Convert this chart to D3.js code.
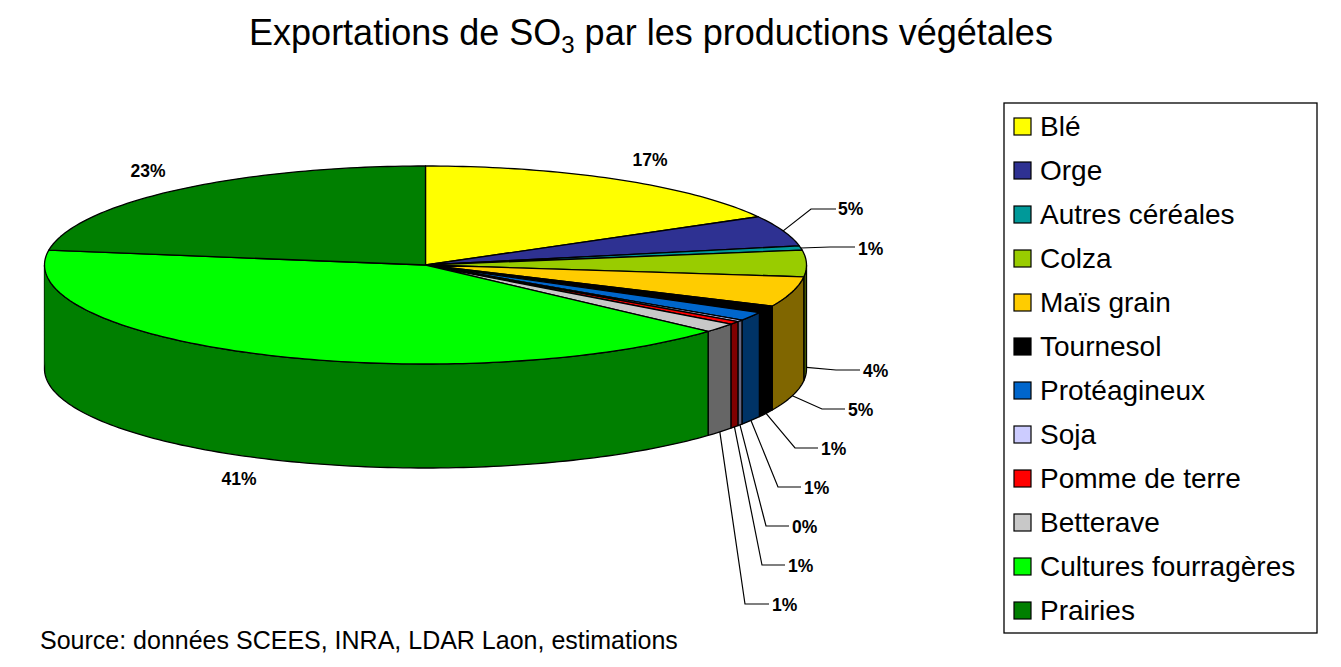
<!DOCTYPE html>
<html>
<head>
<meta charset="utf-8">
<script src="https://cdn.jsdelivr.net/npm/d3@7"></script>
<style>
  html, body { margin: 0; padding: 0; background: #fff; }
  svg { display: block; }
  text { font-family: "Liberation Sans", Arial, sans-serif; fill: #000; }
</style>
</head>
<body>
<div id="chart"></div>
<script>
// Exportations de SO3 - pie drawn in fake 3D like the old Excel chart

var categories = ["Blé", "Orge", "Autres céréales", "Colza", "Maïs grain", "Tournesol",
    "Protéagineux", "Soja", "Pomme de terre", "Betterave", "Cultures fourragères", "Prairies"];
var values = [16.9, 5.0, 0.7, 4.3, 4.9, 1.2, 1.4, 0.3, 0.5, 1.5, 40.7, 22.6];
var percentLabels = ["17%", "5%", "1%", "4%", "5%", "1%", "1%", "0%", "1%", "1%", "41%", "23%"];
var topColors = ["#ffff00", "#2e3192", "#009999", "#99cc00", "#ffcc00", "#000000",
    "#0066cc", "#ccccff", "#ff0000", "#c8c8c8", "#00ff00", "#007f00"];
var sideColors = ["#808000", "#191970", "#004d4d", "#4d6600", "#806600", "#000000",
    "#003366", "#666680", "#800000", "#666666", "#007f00", "#004000"];

var width = 1341, height = 667;
var cx = 425.5, cy = 265, rx = 381, ry = 99, depth = 104;

var svg = d3.select("#chart").append("svg")
    .attr("width", width)
    .attr("height", height);

var color = d3.scaleOrdinal().domain(categories).range(topColors);
var sideColor = d3.scaleOrdinal().domain(categories).range(sideColors);

var pie = d3.pie().sort(null).value(function(d, i) { return values[i]; });
var slices = pie(categories);

var line = d3.line().x(function(d) { return d[0]; }).y(function(d) { return d[1]; });

function project(a, dy) {
    return [cx + rx * Math.sin(a), cy - ry * Math.cos(a) + (dy || 0)];
}

function rim(a0, a1, dy) {
    var n = Math.max(2, Math.ceil((a1 - a0) / 0.02));
    return d3.range(n + 1).map(function(i) { return project(a0 + (a1 - a0) * i / n, dy); });
}

// side wall, only the front half can be seen
var front = [Math.PI / 2, Math.PI * 3 / 2];
var sides = slices.filter(function(d) {
    return d.endAngle > front[0] && d.startAngle < front[1];
});

var pieG = svg.append("g");

pieG.selectAll(".side")
    .data(sides)
    .enter().append("path")
    .attr("class", "side")
    .attr("d", function(d) {
        var a0 = Math.max(d.startAngle, front[0]), a1 = Math.min(d.endAngle, front[1]);
        return line(rim(a0, a1, 0).concat(rim(a0, a1, depth).reverse())) + "Z";
    })
    .attr("fill", function(d) { return sideColor(d.data); })
    .attr("stroke", "#000")
    .attr("stroke-width", 1.3)
    .attr("stroke-linejoin", "round");

// the wall also wraps a little past the widest point on the left
var wrap = slices[10];
pieG.append("path")
    .attr("d", line(rim(front[1], wrap.endAngle, 0).concat(rim(front[1], wrap.endAngle, depth).reverse())) + "Z")
    .attr("fill", sideColor(wrap.data))
    .attr("stroke", "none");

pieG.selectAll(".top")
    .data(slices)
    .enter().append("path")
    .attr("class", "top")
    .attr("d", function(d) {
        return line([[cx, cy]].concat(rim(d.startAngle, d.endAngle, 0))) + "Z";
    })
    .attr("fill", function(d) { return color(d.data); })
    .attr("stroke", "#000")
    .attr("stroke-width", 1.3)
    .attr("stroke-linejoin", "round");

// labels. elbow = where the leader bends, null means no leader
var labelLayout = [
    {x: 650, y: 166, anchor: "middle"},
    {elbow: [811, 209], end: 836, x: 838, y: 215, wall: false},
    {elbow: [830, 247], end: 855, x: 858, y: 255, wall: false},
    {elbow: [836, 370], end: 860, x: 863, y: 377, wall: true},
    {elbow: [822, 409], end: 845, x: 848, y: 416, wall: true},
    {elbow: [795, 448], end: 818, x: 821, y: 455, wall: true},
    {elbow: [778, 487], end: 801, x: 804, y: 494, wall: true},
    {elbow: [766, 526], end: 789, x: 792, y: 533, wall: true},
    {elbow: [762, 565], end: 785, x: 788, y: 572, wall: true},
    {elbow: [745, 604], end: 769, x: 772, y: 611, wall: true},
    {x: 239, y: 485, anchor: "middle"},
    {x: 148, y: 177, anchor: "middle"}
];

var labelG = svg.append("g");

slices.forEach(function(d, i) {
    var l = labelLayout[i];
    if (l.elbow) {
        var mid = (d.startAngle + d.endAngle) / 2;
        var start = project(mid, l.wall ? depth : 0);
        labelG.append("path")
            .attr("d", line([start, l.elbow, [l.end, l.elbow[1]]]))
            .attr("fill", "none")
            .attr("stroke", "#000")
            .attr("stroke-width", 1.2);
    }
    labelG.append("text")
        .attr("x", l.x)
        .attr("y", l.y)
        .attr("text-anchor", l.anchor || "start")
        .attr("font-size", 17.5)
        .attr("font-weight", "bold")
        .text(percentLabels[i]);
});

// title with the subscript
var title = svg.append("text")
    .attr("x", 651)
    .attr("y", 45)
    .attr("text-anchor", "middle")
    .attr("font-size", 36);
title.append("tspan").text("Exportations de SO");
title.append("tspan").attr("font-size", 24).attr("dy", 8).text("3");
title.append("tspan").attr("dy", -8).text(" par les productions végétales");

svg.append("text")
    .attr("x", 40)
    .attr("y", 649)
    .attr("font-size", 25)
    .text("Source: données SCEES, INRA, LDAR Laon, estimations");

// legend
var legendY = d3.scalePoint().domain(categories).range([126, 610]);

var legend = svg.append("g");
legend.append("rect")
    .attr("x", 1004)
    .attr("y", 103)
    .attr("width", 313)
    .attr("height", 530)
    .attr("fill", "#fff")
    .attr("stroke", "#000")
    .attr("stroke-width", 1.3);

var rows = legend.selectAll(".row")
    .data(categories)
    .enter().append("g")
    .attr("class", "row")
    .attr("transform", function(d) { return "translate(0," + legendY(d) + ")"; });

rows.append("rect")
    .attr("x", 1014)
    .attr("y", -8)
    .attr("width", 17)
    .attr("height", 17)
    .attr("fill", function(d) { return color(d); })
    .attr("stroke", "#000")
    .attr("stroke-width", 1.2);

rows.append("text")
    .attr("x", 1040)
    .attr("y", 9.5)
    .attr("font-size", 28)
    .text(function(d) { return d; });
</script>
</body>
</html>
